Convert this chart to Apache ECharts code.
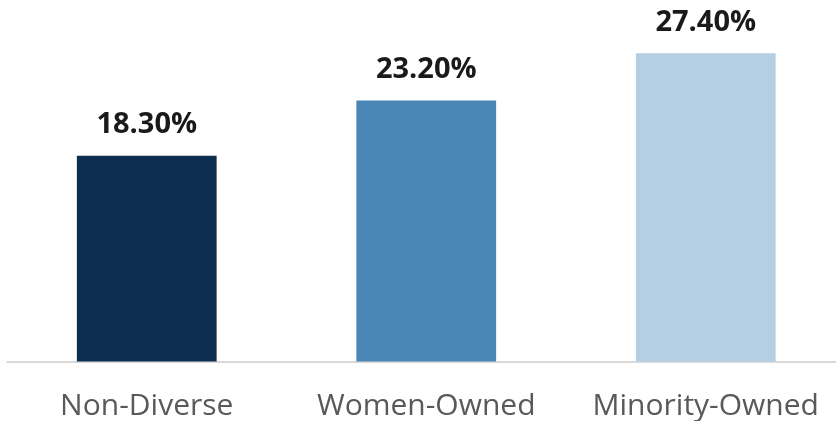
<!DOCTYPE html>
<html>
<head>
<meta charset="utf-8">
<script src="https://cdn.jsdelivr.net/npm/echarts@6/dist/echarts.min.js"></script>
<style>
  html, body { margin: 0; padding: 0; background: #ffffff; }
  #chart { width: 836px; height: 421px; }
</style>
</head>
<body>
<div id="chart"></div>
<script>
// Share by ownership type (%)
const categories = ['Non-Diverse', 'Women-Owned', 'Minority-Owned'];
const values = [18.3, 23.2, 27.4];
const barColors = ['#0c2d4e', '#4a87b6', '#b4cee3'];

const chart = echarts.init(document.getElementById('chart'), null, { renderer: 'canvas' });

chart.setOption({
  animation: false,
  backgroundColor: '#ffffff',
  grid: {
    left: 7, width: 838.5, top: 24, height: 337.5,
    containLabel: false,
    outerBoundsMode: 'none'
  },
  xAxis: {
    type: 'category',
    data: categories,
    axisLine: { show: true, lineStyle: { color: '#d9d9d9', width: 2 } },
    axisTick: { show: false },
    axisLabel: {
      color: '#595959',
      fontFamily: 'Open Sans',
      fontSize: 30,
      margin: 30,
      interval: 0
    }
  },
  yAxis: {
    type: 'value',
    min: 0,
    max: 30,
    show: false,
    splitLine: { show: false }
  },
  series: [{
    type: 'bar',
    barWidth: '50%',
    data: values.map((v, i) => ({ value: v, itemStyle: { color: barColors[i] } })),
    label: {
      show: true,
      position: 'top',
      distance: 16,
      color: '#1a1a1a',
      fontFamily: 'Open Sans',
      fontWeight: 'bold',
      fontSize: 29,
      formatter: p => p.value.toFixed(2) + '%'
    }
  }]
});
</script>
</body>
</html>
